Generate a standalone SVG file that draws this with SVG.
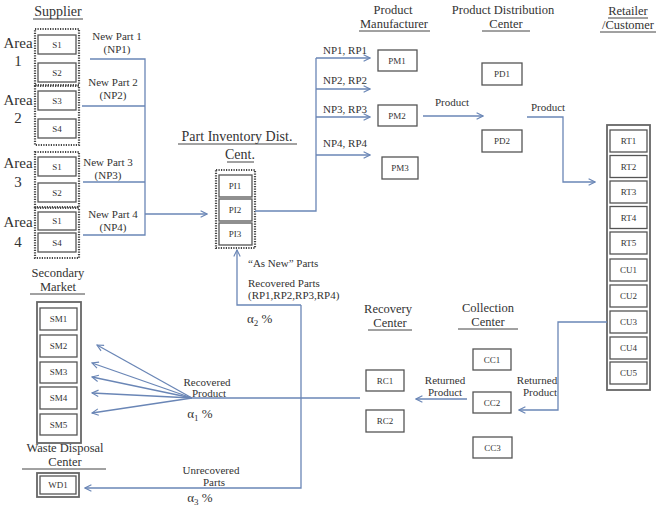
<svg xmlns="http://www.w3.org/2000/svg" width="660" height="510" viewBox="0 0 660 510">
<style>
text{font-family:"Liberation Serif","Times New Roman",serif;fill:#333}
.t{font-size:14px;text-anchor:middle}
.t2{font-size:12.5px;text-anchor:middle}
.l{font-size:11px;text-anchor:middle}
.ls{font-size:11px}
.b{font-size:9px;text-anchor:middle}
.area{font-size:15px;text-anchor:middle}
.ul{stroke:#444;stroke-width:1;fill:none}
.box{fill:#fff;stroke:#555;stroke-width:1.3}
.dot{fill:#fff;stroke:#444;stroke-width:2.2;stroke-dasharray:1.2 1.3}
.outer{fill:#fff;stroke:#666;stroke-width:1.8}
.c{stroke:#6a86b6;stroke-width:1.3;fill:none}
.ca{stroke:#6a86b6;stroke-width:1.3;fill:none;marker-end:url(#ah)}
</style>
<defs>
<marker id="ah" viewBox="0 0 10 10" refX="9" refY="5" markerWidth="8" markerHeight="8" markerUnits="userSpaceOnUse" orient="auto">
<path d="M1,1 L9,5 L1,9" fill="none" stroke="#6a86b6" stroke-width="1.4"/>
</marker>
</defs>
<rect width="660" height="510" fill="#fff"/>

<!-- Titles -->
<g id="titles">
<text class="t" x="58" y="16">Supplier</text><line class="ul" x1="33" y1="19" x2="83" y2="19"/>
<text class="t" x="237" y="141">Part Inventory Dist.</text><line class="ul" x1="178" y1="144" x2="297" y2="144"/>
<text class="t" x="240" y="159">Cent.</text><line class="ul" x1="227" y1="162" x2="254" y2="162"/>
<text class="t2" x="393" y="14">Product</text>
<text class="t2" x="394" y="28">Manufacturer</text><line class="ul" x1="359" y1="31" x2="430" y2="31"/>
<text class="t2" x="503" y="14">Product Distribution</text>
<text class="t2" x="506" y="28">Center</text><line class="ul" x1="482" y1="31" x2="530" y2="31"/>
<text class="t2" x="628" y="15">Retailer</text><line class="ul" x1="608" y1="18" x2="648" y2="18"/>
<text class="t2" x="628" y="29">/Customer</text><line class="ul" x1="600" y1="32" x2="656" y2="32"/>
<text class="t2" x="488" y="312">Collection</text>
<text class="t2" x="488" y="326">Center</text><line class="ul" x1="458" y1="329" x2="518" y2="329"/>
<text class="t2" x="388" y="313">Recovery</text>
<text class="t2" x="390" y="327">Center</text><line class="ul" x1="368" y1="330" x2="412" y2="330"/>
<text class="t2" x="58" y="277">Secondary</text>
<text class="t2" x="58" y="291">Market</text><line class="ul" x1="30" y1="294" x2="85" y2="294"/>
<text class="t2" x="65" y="452">Waste Disposal</text>
<text class="t2" x="65" y="466">Center</text><line class="ul" x1="22" y1="469" x2="106" y2="469"/>
</g>

<!-- Supplier areas -->
<g id="area1">
<text class="area" x="18" y="48">Area</text><text class="area" x="18" y="66">1</text>
<rect class="dot" x="35" y="29" width="44" height="56"/>
<rect class="box" x="38" y="35" width="38" height="19"/><text class="b" x="57" y="48">S1</text>
<rect class="box" x="38" y="63" width="38" height="19"/><text class="b" x="57" y="76">S2</text>
</g>
<g id="area2">
<text class="area" x="18" y="105">Area</text><text class="area" x="18" y="123">2</text>
<rect class="dot" x="35" y="86" width="44" height="59"/>
<rect class="box" x="38" y="91" width="38" height="19"/><text class="b" x="57" y="104">S3</text>
<rect class="box" x="38" y="119" width="38" height="19"/><text class="b" x="57" y="132">S4</text>
</g>
<g id="area3">
<text class="area" x="18" y="168">Area</text><text class="area" x="18" y="187">3</text>
<rect class="dot" x="35" y="152" width="44" height="55"/>
<rect class="box" x="38" y="157" width="38" height="19"/><text class="b" x="57" y="170">S1</text>
<rect class="box" x="38" y="183" width="38" height="19"/><text class="b" x="57" y="196">S2</text>
</g>
<g id="area4">
<text class="area" x="18" y="227">Area</text><text class="area" x="18" y="247">4</text>
<rect class="dot" x="35" y="208" width="44" height="50"/>
<rect class="box" x="38" y="212" width="38" height="18"/><text class="b" x="57" y="224">S1</text>
<rect class="box" x="38" y="233" width="38" height="19"/><text class="b" x="57" y="246">S4</text>
</g>

<!-- Part inventory -->
<g id="pi">
<rect class="dot" x="216" y="170" width="39" height="78"/>
<rect class="box" x="219" y="175" width="33" height="22"/><text class="b" x="235" y="189">PI1</text>
<rect class="box" x="219" y="199" width="33" height="22"/><text class="b" x="235" y="213">PI2</text>
<rect class="box" x="219" y="223" width="33" height="22"/><text class="b" x="235" y="237">PI3</text>
</g>

<!-- Manufacturers -->
<g id="pm1"><rect class="box" x="378" y="50" width="39" height="21"/><text class="b" x="397" y="64">PM1</text></g>
<g id="pm2"><rect class="box" x="378" y="105" width="39" height="21"/><text class="b" x="397" y="119">PM2</text></g>
<g id="pm3"><rect class="box" x="382" y="157" width="36" height="22"/><text class="b" x="400" y="171">PM3</text></g>
<g id="pd1"><rect class="box" x="482" y="63" width="40" height="22"/><text class="b" x="502" y="77">PD1</text></g>
<g id="pd2"><rect class="box" x="482" y="130" width="40" height="22"/><text class="b" x="502" y="144">PD2</text></g>

<!-- Retailer/Customer -->
<g id="rt">
<rect class="outer" x="607" y="125" width="43" height="265"/>
<rect class="box" x="610" y="130" width="37" height="22"/><text class="b" x="628.5" y="144">RT1</text>
<rect class="box" x="610" y="155.5" width="37" height="22"/><text class="b" x="628.5" y="169.5">RT2</text>
<rect class="box" x="610" y="181" width="37" height="22"/><text class="b" x="628.5" y="195">RT3</text>
<rect class="box" x="610" y="206.5" width="37" height="22"/><text class="b" x="628.5" y="220.5">RT4</text>
<rect class="box" x="610" y="232" width="37" height="22"/><text class="b" x="628.5" y="246">RT5</text>
<rect class="box" x="610" y="259" width="37" height="22"/><text class="b" x="628.5" y="273">CU1</text>
<rect class="box" x="610" y="285" width="37" height="22"/><text class="b" x="628.5" y="299">CU2</text>
<rect class="box" x="610" y="311" width="37" height="22"/><text class="b" x="628.5" y="325">CU3</text>
<rect class="box" x="610" y="337" width="37" height="22"/><text class="b" x="628.5" y="351">CU4</text>
<rect class="box" x="610" y="362" width="37" height="22"/><text class="b" x="628.5" y="376">CU5</text>
</g>

<!-- Collection / Recovery -->
<g id="cc1"><rect class="box" x="473" y="349" width="38" height="21"/><text class="b" x="492" y="363">CC1</text></g>
<g id="cc2"><rect class="box" x="473" y="392" width="38" height="21"/><text class="b" x="492" y="406">CC2</text></g>
<g id="cc3"><rect class="box" x="473" y="437" width="39" height="21"/><text class="b" x="492.5" y="451">CC3</text></g>
<g id="rc1"><rect class="box" x="366" y="370" width="38" height="21"/><text class="b" x="385" y="384">RC1</text></g>
<g id="rc2"><rect class="box" x="366" y="410" width="38" height="22"/><text class="b" x="385" y="424">RC2</text></g>

<!-- Secondary market -->
<g id="sm">
<rect class="outer" x="37" y="302" width="44" height="141"/>
<rect class="box" x="40" y="308" width="37" height="22"/><text class="b" x="58.5" y="322">SM1</text>
<rect class="box" x="40" y="335" width="37" height="22"/><text class="b" x="58.5" y="349">SM2</text>
<rect class="box" x="40" y="362" width="37" height="21"/><text class="b" x="58.5" y="375">SM3</text>
<rect class="box" x="40" y="387" width="37" height="22"/><text class="b" x="58.5" y="401">SM4</text>
<rect class="box" x="40" y="414" width="37" height="21"/><text class="b" x="58.5" y="428">SM5</text>
</g>
<g id="wd1">
<rect class="outer" x="37" y="473" width="42" height="24"/>
<rect class="box" x="40" y="476" width="36" height="18"/><text class="b" x="58" y="488">WD1</text>
</g>

<!-- Connectors -->
<g id="connectors">
<path class="c" d="M90,59 H145 V235 H83 M82,106 H145 M83,182 H145"/>
<path class="ca" d="M145,214 H207"/>
<path class="c" d="M255,211 H316 V58"/>
<path class="ca" d="M316,58 H370"/>
<path class="ca" d="M316,89 H370"/>
<path class="ca" d="M316,117 H370"/>
<path class="ca" d="M316,155 H370"/>
<path class="ca" d="M423,116 H483"/>
<path class="ca" d="M527,117 H563 V182 H595"/>
<path class="ca" d="M607,322 H558 V410 H519"/>
<path class="ca" d="M467,399 H416"/>
<path class="c" d="M360,398 H192"/>
<path class="ca" d="M192,398 L97,345"/>
<path class="ca" d="M192,398 L92,363"/>
<path class="ca" d="M192,398 L92,377"/>
<path class="ca" d="M192,398 L92,393"/>
<path class="ca" d="M192,398 L92,413"/>
<path class="ca" d="M301,305 H237 V250"/>
<path class="ca" d="M301,305 V488 H85"/>
</g>

<!-- Connector labels -->
<g id="labels">
<text class="l" x="117" y="40">New Part 1</text><text class="l" x="117" y="53">(NP1)</text>
<text class="l" x="113" y="86">New Part 2</text><text class="l" x="113" y="99">(NP2)</text>
<text class="l" x="108" y="166">New Part 3</text><text class="l" x="108" y="179">(NP3)</text>
<text class="l" x="113" y="218">New Part 4</text><text class="l" x="113" y="231">(NP4)</text>
<text class="l" x="345" y="54">NP1, RP1</text>
<text class="l" x="345" y="84">NP2, RP2</text>
<text class="l" x="345" y="113">NP3, RP3</text>
<text class="l" x="345" y="147">NP4, RP4</text>
<text class="l" x="452" y="106">Product</text>
<text class="l" x="548" y="111">Product</text>
<text class="l" x="537" y="384">Returned</text><text class="l" x="540" y="396">Product</text>
<text class="l" x="445" y="384">Returned</text><text class="l" x="445" y="396">Product</text>
<text class="l" x="207" y="386">Recovered</text><text class="l" x="209" y="397">Product</text>
<text class="l" x="200" y="418" style="font-size:13px">α<tspan font-size="9" dy="3">1</tspan><tspan dy="-3"> %</tspan></text>
<text class="ls" x="248" y="267">“As New” Parts</text>
<text class="ls" x="248" y="287">Recovered Parts</text>
<text class="ls" x="248" y="299">(RP1,RP2,RP3,RP4)</text>
<text x="247" y="323" style="font-size:13px">α<tspan font-size="9" dy="3">2</tspan><tspan dy="-3"> %</tspan></text>
<text class="l" x="211" y="474">Unrecovered</text><text class="l" x="214" y="486">Parts</text>
<text class="l" x="200" y="502" style="font-size:13px">α<tspan font-size="9" dy="3">3</tspan><tspan dy="-3"> %</tspan></text>
</g>
</svg>
